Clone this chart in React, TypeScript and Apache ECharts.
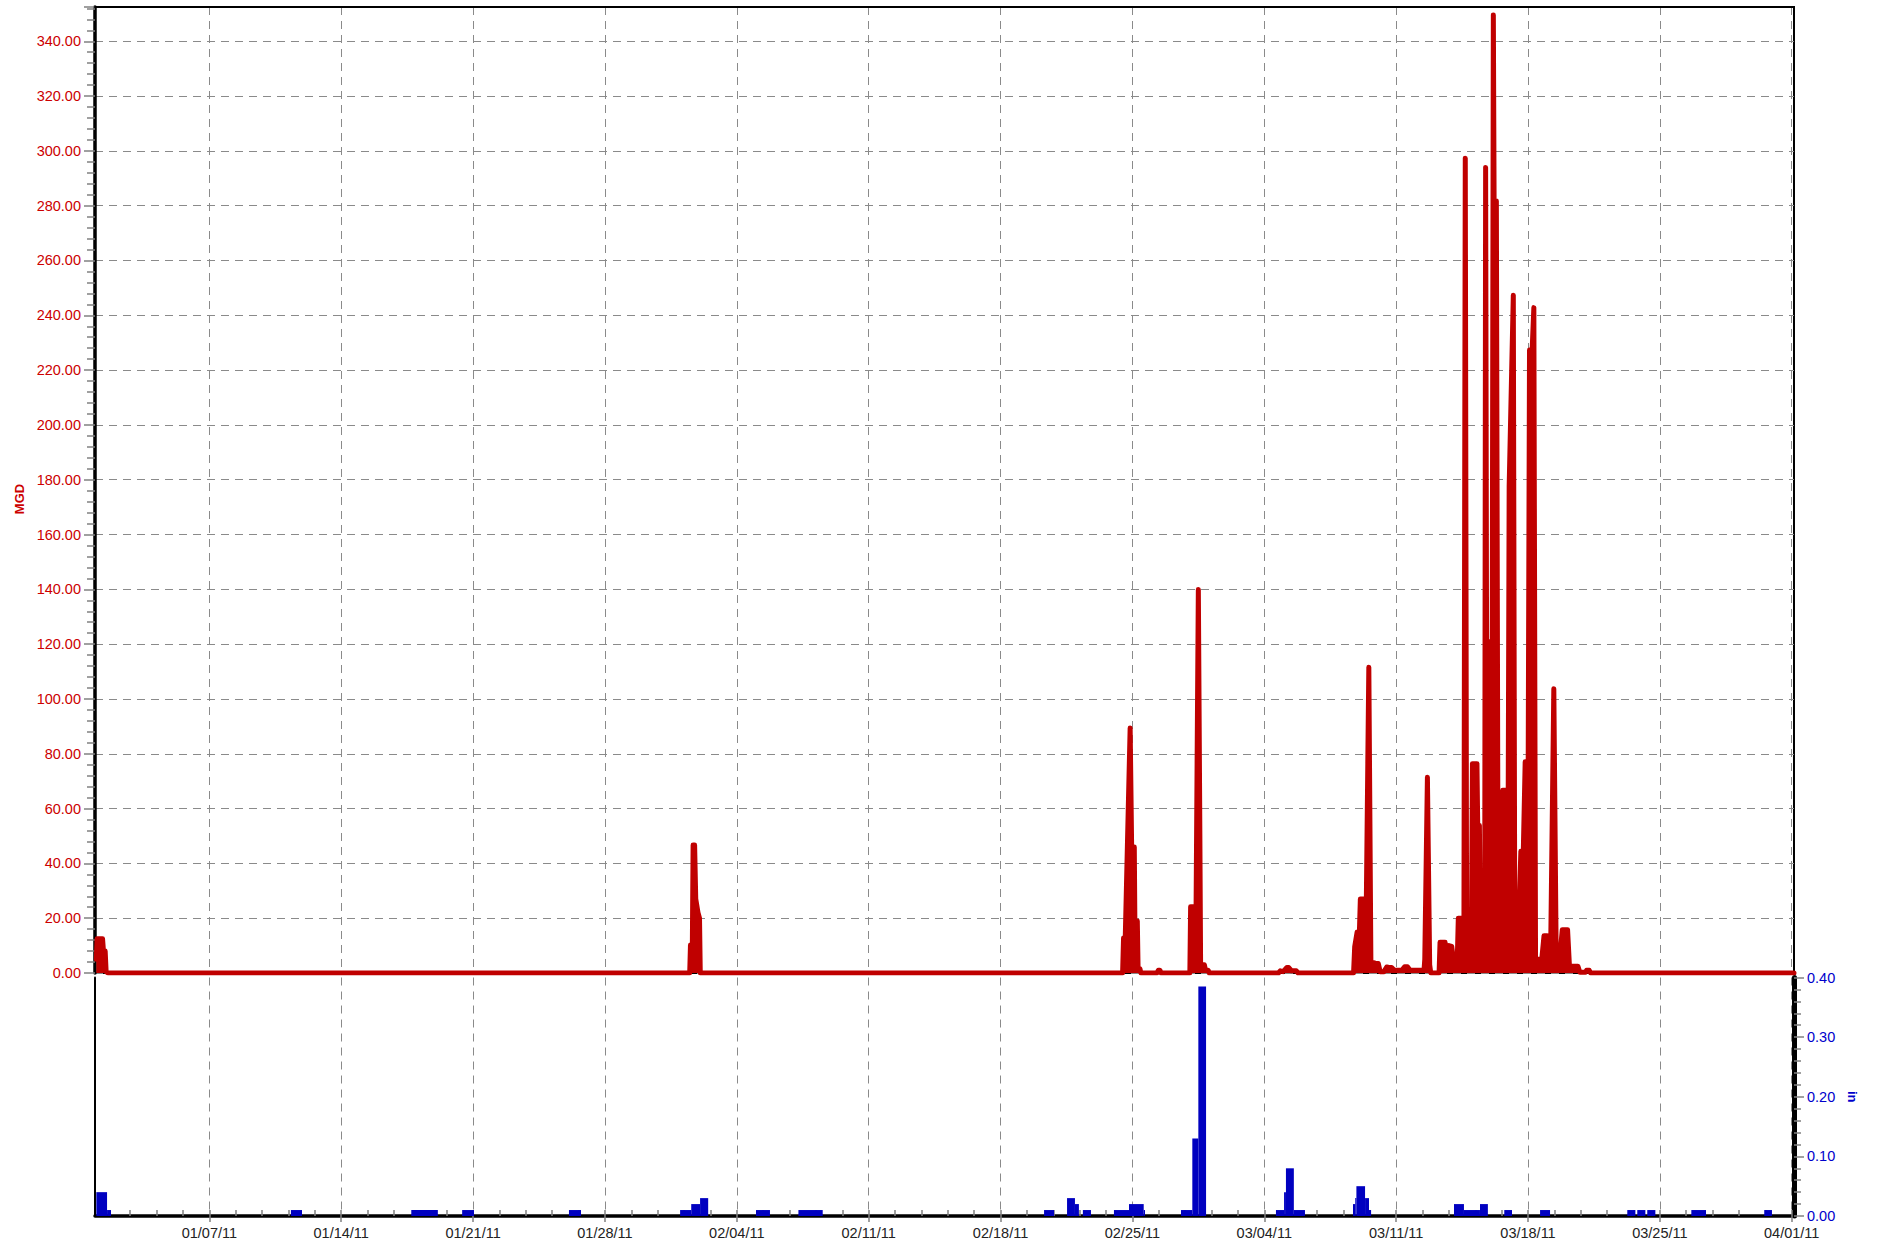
import React, { useEffect, useRef } from "react";
import * as echarts from "echarts";

// ---------- DATA (days since 01/01/2011 00:00) ----------
const weekTicks = [6, 13, 20, 27, 34, 41, 48, 55, 62, 69, 76, 83, 90];

const flowJan01 = [[0.0, 5], [0.04, 12.5], [0.33, 12.5], [0.38, 8], [0.47, 8], [0.52, 0.5], [0.62, 0]];
const flowFeb01 = [[31.5, 0], [31.54, 10.2], [31.64, 10.2], [31.68, 46.7], [31.76, 46.7], [31.82, 27], [31.94, 22], [32.02, 20], [32.06, 0]];
const flowFeb25 = [[54.48, 0], [54.53, 12.8], [54.62, 12.8], [54.78, 60], [54.88, 89.4], [54.96, 46], [55.1, 46], [55.13, 19], [55.26, 19], [55.3, 2], [55.4, 1.5], [55.45, 0]];
const flowFeb26 = [[56.3, 0], [56.38, 1], [56.46, 1], [56.52, 0]];
const flowFeb27 = [[58.05, 0], [58.09, 24.2], [58.38, 24.2], [58.5, 139.9], [58.58, 51], [58.62, 3], [58.82, 3], [58.88, 1], [59.02, 1], [59.08, 0]];
const flowMar04 = [[62.75, 0], [62.85, 0.8], [63.0, 0.5], [63.2, 2], [63.3, 2], [63.45, 0.8], [63.7, 0.8], [63.8, 0]];
const flowMar09 = [[66.74, 0], [66.8, 9.6], [66.93, 15], [67.05, 15], [67.1, 27], [67.3, 27], [67.4, 15], [67.55, 111.6], [67.66, 4], [67.9, 3.6], [68.05, 3.5], [68.15, 0.5], [68.35, 0.5], [68.5, 2.2], [68.62, 2], [68.76, 2], [68.9, 1], [69.3, 1], [69.45, 2.3], [69.6, 2.3], [69.74, 1], [70.48, 1], [70.52, 5], [70.66, 71.4], [70.78, 3], [70.84, 0]];
const flowMar14 = [[71.28, 0], [71.33, 11.2], [71.6, 11.2], [71.66, 3], [71.75, 3], [71.8, 10], [71.95, 9.7], [72.02, 6], [72.25, 6], [72.3, 20], [72.6, 20], [72.67, 297.3], [72.74, 17.6], [73.0, 17.6], [73.05, 76.4], [73.29, 76.4], [73.33, 53.8], [73.42, 53.8], [73.47, 12], [73.7, 12], [73.75, 293.9], [73.8, 120.9], [74.1, 120.9], [74.16, 349.6], [74.2, 281.7], [74.32, 281.7], [74.4, 55.2], [74.51, 55.2], [74.56, 2], [74.62, 2], [74.66, 66.7], [74.95, 66.7], [75.0, 177.5], [75.22, 247.3], [75.3, 5.8], [75.45, 5.8], [75.62, 44.4], [75.75, 44.4], [75.85, 77.1], [76.01, 77.1], [76.08, 227.3], [76.22, 227.3], [76.31, 242.8], [76.4, 5], [76.73, 5], [76.85, 13.6], [77.02, 13.6], [77.1, 7], [77.2, 7], [77.37, 103.7], [77.5, 3], [77.65, 3], [77.82, 15.8], [78.1, 15.8], [78.2, 2.5], [78.65, 2.5], [78.75, 0.3], [79.05, 0.3], [79.11, 1], [79.25, 1], [79.32, 0]];
const flowEnd = [[90.12, 0]];

const rainStart = [0.0, 0.57, 10.33, 16.72, 19.42, 25.09, 30.99, 31.58, 32.05, 35.02, 37.27, 50.31, 51.53, 51.95, 52.37, 54.02, 54.82, 55.6, 57.58, 58.18, 58.5, 62.62, 63.05, 63.15, 63.57, 66.71, 66.83, 66.89, 67.35, 67.56, 72.07, 72.6, 73.45, 74.74, 76.64, 81.27, 81.8, 82.33, 84.67, 88.54];
const rainEnd = [0.57, 0.78, 10.92, 18.13, 20.05, 25.73, 31.58, 32.05, 32.48, 35.76, 38.56, 50.84, 51.95, 52.16, 52.8, 54.82, 55.6, 55.67, 58.18, 58.5, 58.91, 63.05, 63.15, 63.57, 64.16, 66.83, 66.89, 67.35, 67.56, 67.67, 72.6, 73.45, 73.87, 75.15, 77.17, 81.7, 82.23, 82.76, 85.45, 88.95];
const rainIn = [0.04, 0.01, 0.01, 0.01, 0.01, 0.01, 0.01, 0.02, 0.03, 0.01, 0.01, 0.01, 0.03, 0.02, 0.01, 0.01, 0.02, 0.01, 0.01, 0.13, 0.385, 0.01, 0.04, 0.08, 0.01, 0.02, 0.03, 0.05, 0.03, 0.01, 0.02, 0.01, 0.02, 0.01, 0.01, 0.01, 0.01, 0.01, 0.01, 0.01];

// ---------- STYLE ----------
const FONT = "'Liberation Sans', Arial, sans-serif";
const RED = "#c00000";
const BLUE = "#0000c0";
const X_MIN = -0.07;
const X_MAX = 90.12;
const START_UTC = Date.UTC(2011, 0, 1);
const minorDayTicks = Array.from({ length: 65 }, (_, k) => +(0.4 + 1.4 * k).toFixed(2));

function dayLabel(d: number): string {
  const dt = new Date(START_UTC + Math.round(d) * 86400000);
  const mm = String(dt.getUTCMonth() + 1).padStart(2, "0");
  const dd = String(dt.getUTCDate()).padStart(2, "0");
  return `${mm}/${dd}/11`;
}

const dashed = { color: "#8a8a8a", type: [8, 6] as any, width: 1 };
const tickStyle = { color: "#808080", width: 1.5 };

export default function App() {
  const ref = useRef<HTMLDivElement>(null);
  useEffect(() => {
    if (!ref.current) return;
    const chart = echarts.init(ref.current, undefined, { renderer: "svg" });
    const flowData = [
      ...flowJan01, ...flowFeb01, ...flowFeb25, ...flowFeb26, ...flowFeb27,
      ...flowMar04, ...flowMar09, ...flowMar14, ...flowEnd,
    ];
    const rainData = rainStart.map((s, i) => [s, rainEnd[i], rainIn[i]]);
    const option: any = {
      animation: false,
      textStyle: { fontFamily: FONT },
      graphic: [
        {
          type: "text", x: 19, y: 499, rotation: Math.PI / 2,
          style: { text: "MGD", fill: "#cc0000", font: `bold 13px ${FONT}`, align: "center", verticalAlign: "middle" },
        },
      ],
      grid: [
        { left: 95, top: 7, width: 1699, height: 966, show: true, borderColor: "#000", borderWidth: 2, outerBoundsMode: "none" },
        { left: 95, top: 977.5, width: 1699, height: 238.5, outerBoundsMode: "none" },
      ],
      xAxis: [
        {
          type: "value", gridIndex: 0, min: X_MIN, max: X_MAX,
          axisLine: { show: false },
          axisTick: { show: false, customValues: weekTicks },
          axisLabel: { show: false, customValues: weekTicks },
          splitLine: { show: true, lineStyle: dashed },
        },
        {
          type: "value", gridIndex: 1, min: X_MIN, max: X_MAX,
          axisLine: { onZero: false, lineStyle: { color: "#000", width: 3.5 } },
          axisTick: { show: true, customValues: weekTicks, length: 6, lineStyle: tickStyle },
          axisLabel: { customValues: weekTicks, formatter: dayLabel, color: "#222", fontSize: 14.5, margin: 9, fontFamily: FONT },
          splitLine: { show: true, lineStyle: dashed },
        },
        {
          type: "value", gridIndex: 1, min: X_MIN, max: X_MAX,
          axisLine: { show: false },
          axisTick: { show: true, customValues: minorDayTicks, length: 6, lineStyle: tickStyle },
          axisLabel: { show: false, customValues: minorDayTicks },
          splitLine: { show: false },
        },
        {
          type: "value", gridIndex: 0, min: X_MIN, max: X_MAX, z: 5,
          axisLine: { onZero: false, lineStyle: { color: "#000", width: 2 } },
          axisTick: { show: false }, axisLabel: { show: false }, splitLine: { show: false },
        },
      ],
      yAxis: [
        {
          type: "value", gridIndex: 0, position: "left", min: 0, max: 352.5, interval: 20,
          axisLine: { show: true, onZero: false, lineStyle: { color: "#000", width: 3.5 } },
          axisTick: { show: true, length: 11, lineStyle: tickStyle },
          minorTick: { show: true, splitNumber: 5, length: 8, lineStyle: tickStyle },
          axisLabel: { color: "#cc0000", fontSize: 14.5, margin: 14, showMaxLabel: false, fontFamily: FONT, formatter: (v: number) => v.toFixed(2) },
          splitLine: { show: true, lineStyle: dashed },
        },
        {
          type: "value", gridIndex: 1, position: "right", min: 0, max: 0.4, interval: 0.1,
          name: "in", nameLocation: "middle", nameRotate: -90, nameGap: 52,
          nameTextStyle: { color: "#0000cc", fontWeight: "bold", fontSize: 13, fontFamily: FONT },
          axisLine: { show: true, onZero: false, lineStyle: { color: "#000", width: 5 } },
          axisTick: { show: true, length: 10, lineStyle: tickStyle },
          minorTick: { show: true, splitNumber: 5, length: 7, lineStyle: tickStyle },
          axisLabel: { color: "#0000cc", fontSize: 14.5, margin: 13, fontFamily: FONT, formatter: (v: number) => v.toFixed(2) },
          splitLine: { show: false },
        },
        {
          type: "value", gridIndex: 1, position: "left", min: 0, max: 0.4,
          axisLine: { show: true, onZero: false, lineStyle: { color: "#000", width: 2 } },
          axisTick: { show: false }, axisLabel: { show: false }, splitLine: { show: false },
        },
      ],
      series: [
        {
          type: "line", xAxisIndex: 0, yAxisIndex: 0, data: flowData,
          showSymbol: false, symbol: "none",
          lineStyle: { color: RED, width: 5, cap: "round", join: "round" },
          areaStyle: { color: RED, opacity: 1 },
          itemStyle: { color: RED },
        },
        {
          type: "custom", xAxisIndex: 1, yAxisIndex: 1, data: rainData,
          encode: { x: [0, 1], y: 2 }, clip: true,
          renderItem: (params: any, api: any) => {
            const p0 = api.coord([api.value(0), api.value(2)]);
            const p1 = api.coord([api.value(1), 0]);
            return {
              type: "rect",
              shape: { x: p0[0], y: p0[1], width: p1[0] - p0[0], height: p1[1] - p0[1] },
              style: { fill: BLUE },
            };
          },
        },
      ],
    };
    chart.setOption(option);
    return () => chart.dispose();
  }, []);
  return <div ref={ref} style={{ position: "absolute", left: 0, top: 0, width: 1879, height: 1248, background: "#fff" }} />;
}
